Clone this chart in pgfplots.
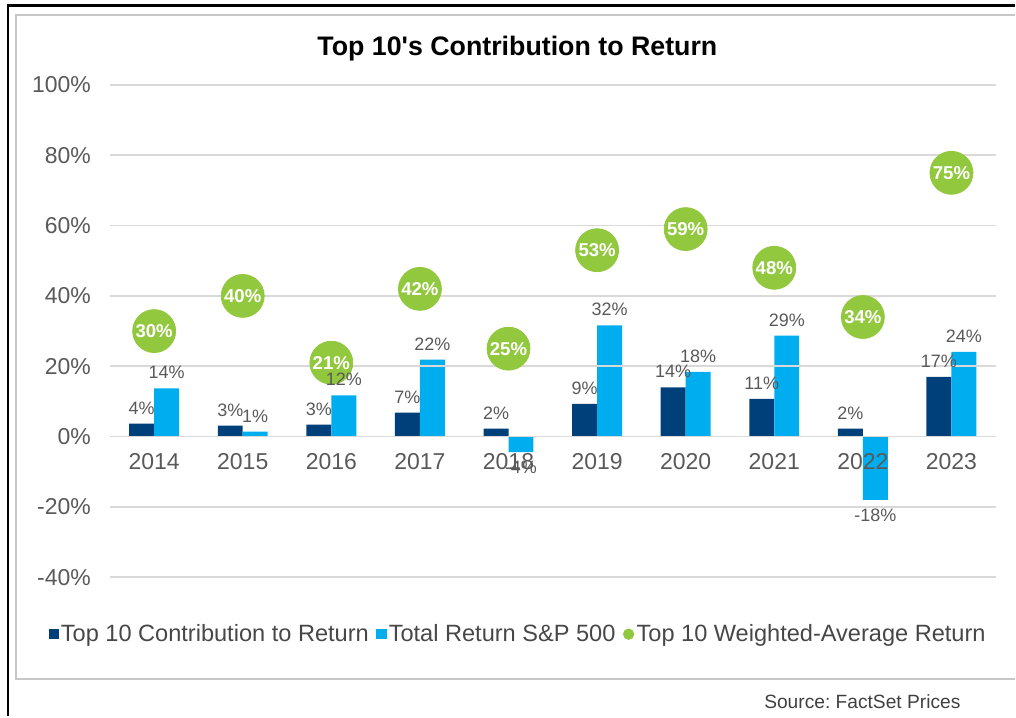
\documentclass[border=0pt]{standalone}
\usepackage{fontspec}
\setmainfont{Liberation Sans}
\newfontfamily\plainfont{Liberation Sans}
\usepackage{pgfplots}
\pgfplotsset{compat=1.18}
\pgfplotsset{layers/mylayers/.define layer set={axis background,axis grid,barlayer,axis ticks,axis lines,axis tick labels,main,axis descriptions,axis foreground}{}}
\definecolor{navyb}{RGB}{0,64,122}
\definecolor{lightb}{RGB}{0,174,239}
\definecolor{greenc}{RGB}{146,200,62}
\definecolor{labgray}{RGB}{89,89,89}
\definecolor{gridg}{RGB}{217,217,217}
\begin{document}
\frenchspacing
\begin{tikzpicture}
% canvas (1px = 0.5pt)
\path (0pt,0pt) rectangle (508pt,-358.5pt);
\draw[black,line width=1.3pt] (3.5pt,-2.8pt) -- (508pt,-2.8pt);
\draw[black,line width=1.2pt] (4pt,-2.8pt) -- (4pt,-358.5pt);
\draw[black!22,line width=0.8pt] (508pt,-7.5pt) -- (8pt,-7.5pt) -- (8pt,-340pt) -- (508pt,-340pt);
\node[font=\fontsize{13.4}{16}\plainfont\bfseries] at (259pt,-24.5pt) {Top 10's Contribution to Return};
\node[anchor=east,inner sep=0pt,text=black!75,font=\fontsize{9.6}{11}\selectfont] at (481pt,-351.5pt) {Source: FactSet Prices};
\begin{axis}[
  set layers=mylayers,
  at={(55pt,-289pt)}, anchor=south west,
  scale only axis, width=443.5pt, height=246.5pt,
  xmin=0.5, xmax=10.5, ymin=-40, ymax=100,
  axis x line*=middle, axis y line*=left,
  axis line style={draw=none},
  major tick length=0pt,
  xtick={1,...,10},
  xticklabels={2014,2015,2016,2017,2018,2019,2020,2021,2022,2023},
  ytick={-40,-20,0,20,40,60,80,100},
  yticklabel={\pgfmathprintnumber{\tick}\%},
  /pgf/number format/assume math mode=true,
  ymajorgrids, grid style={gridg,line width=0.8pt},
  ticklabel style={text=labgray,font=\fontsize{11.5}{13}\selectfont},
  yticklabel style={xshift=-6pt},
  xticklabel style={yshift=-5pt},
  clip=false,
  legend style={at={(0.461,-0.1156)}, anchor=center, draw=none, fill=none,
    legend columns=-1, font=\fontsize{11.8}{13}\selectfont, text=black!72,
    nodes={inner xsep=1.2pt},
    /tikz/every even column/.append style={column sep=2.6pt}},
]
% weighted-average return (circles)
\addplot[forget plot, on layer=barlayer, only marks, mark=*, mark size=10.75pt, color=greenc,
  mark options={fill=greenc, draw=greenc},
  nodes near coords, point meta=explicit symbolic,
  every node near coord/.append style={anchor=center, text=white,
    font=\fontsize{9.3}{11}\selectfont\bfseries}]
  table[meta=lab] {
x y lab
1 30 30\%
2 40 40\%
3 21 21\%
4 42 42\%
5 25 25\%
6 53 53\%
7 59 59\%
8 48 48\%
9 34 34\%
10 75 75\%
};
% top 10 contribution
\addplot[forget plot, on layer=barlayer, ybar, bar width=12.5pt, bar shift=-6.25pt, fill=navyb, draw=none,
  point meta=y,
  nodes near coords={\pgfmathprintnumber[fixed,precision=0]{\pgfplotspointmeta}\%},
  nodes near coords align={vertical},
  every node near coord/.append style={text=labgray, inner sep=4.5pt, xshift=-6.25pt,
    font=\fontsize{9}{11}\selectfont}]
  table {
x y
1 3.7
2 3.1
3 3.4
4 6.8
5 2.3
6 9.3
7 14.0
8 10.7
9 2.3
10 17.0
};
% S&P 500 total return
\addplot[forget plot, on layer=barlayer, ybar, bar width=12.5pt, bar shift=6.25pt, fill=lightb, draw=none,
  point meta=y,
  nodes near coords={\pgfmathprintnumber[fixed,precision=0]{\pgfplotspointmeta}\%},
  nodes near coords align={vertical},
  every node near coord/.append style={text=labgray, inner sep=4.5pt, xshift=6.25pt,
    font=\fontsize{9}{11}\selectfont}]
  table {
x y
1 13.7
2 1.4
3 11.7
4 21.9
5 -4.4
6 31.6
7 18.4
8 28.7
9 -18.0
10 24.1
};
\addlegendimage{legend image code/.code={\fill[navyb] (0pt,-2.3pt) rectangle (4.6pt,2.3pt);}}
\addlegendentry{Top 10 Contribution to Return}
\addlegendimage{legend image code/.code={\fill[lightb] (0pt,-2.3pt) rectangle (4.6pt,2.3pt);}}
\addlegendentry{Total Return S\&P 500}
\addlegendimage{legend image code/.code={\fill[greenc] (2.6pt,0pt) circle (2.6pt);}}
\addlegendentry{Top 10 Weighted-Average Return}
\end{axis}
\end{tikzpicture}
\end{document}
